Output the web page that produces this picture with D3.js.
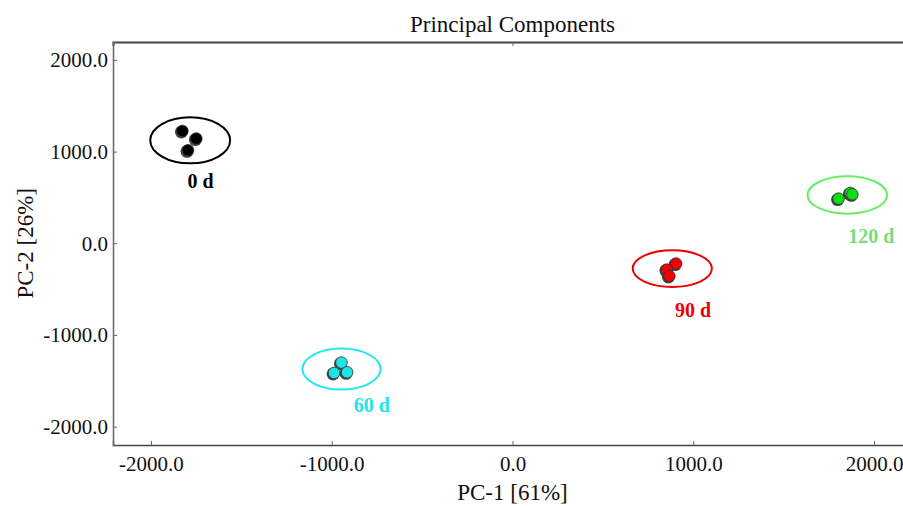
<!DOCTYPE html>
<html>
<head>
<meta charset="utf-8">
<script src="https://cdn.jsdelivr.net/npm/d3@7"></script>
<style>
body{margin:0;background:#fff;}
svg{font-family:"Liberation Serif","Times New Roman",serif;}
</style>
</head>
<body>
<svg id="chart" width="903" height="506"></svg>
<script>
// 坐标轴范围
var XDOMAIN=[-2210,2210];
var YDOMAIN=[-2200,2195];
var XTICKS=[-2000,-1000,0,1000,2000];
var YTICKS=[-2000,-1000,0,1000,2000];

// 分组
var groups=["0 d","60 d","90 d","120 d"];
var groupColor=["#000000","#1ee4e8","#f00000","#11dd11"];
var ringColor=["#000000","#22e8ee","#f00000","#66ee66"];
var labelColor=["#000000","#22e4ea","#ee0000","#77dd77"];

// 样本得分 (PC1, PC2)
var pc1=[-1826,-1749,-1795, -946,-987,-915, 905,854,868, 1804,1869,1880];
var pc2=[1225,1142,1014, -1301,-1414,-1407, -221,-287,-357, 487,549,534];
var sampleGroup=[0,0,0, 1,1,1, 2,2,2, 3,3,3];

// 置信椭圆 (中心, 半轴)
var ellCx=[-1783,-946,884,1852];
var ellCy=[1123,-1372,-276,527];
var ellRx=[221,216,219,220];
var ellRy=[251,224,200,204];

// 标签位置
var labX=[-1725,-778,999,1985];
var labY=[600,-1843,-807,0];

var svg=d3.select("#chart");
var LEFT=113,TOP=42,RIGHT=912,BOTTOM=445;

var x=d3.scaleLinear().domain(XDOMAIN).range([LEFT,RIGHT]);
var y=d3.scaleLinear().domain(YDOMAIN).range([BOTTOM,TOP]);

// 数值格式：普通连字符负号
function fmt(d){return d.toFixed(1);}

// 标题
svg.append("text")
	.text("Principal Components")
	.attr("x",x(0))
	.attr("y",32)
	.attr("text-anchor","middle")
	.style("font-size","23px")
	.style("fill","#111");

// 坐标轴
var xAxis=svg.append("g")
	.attr("transform","translate(0,"+BOTTOM+")")
	.call(d3.axisBottom(x).tickValues(XTICKS).tickSize(-4).tickPadding(11).tickFormat(fmt));
var xTop=svg.append("g")
	.attr("transform","translate(0,"+TOP+")")
	.call(d3.axisTop(x).tickValues([0]).tickSize(-4).tickFormat(""));
var yAxis=svg.append("g")
	.attr("transform","translate("+LEFT+",0)")
	.call(d3.axisLeft(y).tickValues(YTICKS).tickSize(-4).tickPadding(5).tickFormat(fmt));

[xAxis,yAxis,xTop].forEach(function(g){
	g.selectAll("text")
		.style("font-family","'Liberation Serif','Times New Roman',serif")
		.style("font-size","21px")
		.style("fill","#111");
	g.selectAll("line").style("stroke","#666");
	g.select(".domain").style("stroke","#666").style("stroke-width","1.5px");
});
xTop.select(".domain").style("stroke","#444").style("stroke-width","2px");
xAxis.select(".domain").style("stroke","#444");

// 轴标题
svg.append("text")
	.text("PC-1 [61%]")
	.attr("x",x(0))
	.attr("y",500)
	.attr("text-anchor","middle")
	.style("font-size","23px")
	.style("fill","#111");
svg.append("text")
	.text("PC-2 [26%]")
	.attr("transform","translate(33,"+y(0)+") rotate(-90)")
	.attr("text-anchor","middle")
	.style("font-size","23px")
	.style("fill","#111");

// 椭圆与组标签
for(var i=0;i<groups.length;i++){
	svg.append("ellipse")
		.attr("cx",x(ellCx[i]))
		.attr("cy",y(ellCy[i]))
		.attr("rx",x(ellRx[i])-x(0))
		.attr("ry",y(0)-y(ellRy[i]))
		.style("fill","none")
		.style("stroke",ringColor[i])
		.style("stroke-width","2px");
	svg.append("text")
		.text(groups[i])
		.attr("x",x(labX[i]))
		.attr("y",y(labY[i]))
		.attr("text-anchor","middle")
		.style("font-size","20px")
		.style("font-weight","bold")
		.style("fill",labelColor[i]);
}

// 样本点 (阴影+点)
for(var i=0;i<pc1.length;i++){
	svg.append("circle")
		.attr("cx",x(pc1[i])-1)
		.attr("cy",y(pc2[i])+1)
		.attr("r",6.5)
		.style("fill","#444");
}
for(var i=0;i<pc1.length;i++){
	svg.append("circle")
		.attr("cx",x(pc1[i]))
		.attr("cy",y(pc2[i]))
		.attr("r",5.8)
		.style("fill",groupColor[sampleGroup[i]])
		.style("stroke","#333")
		.style("stroke-width","0.8px");
}
</script>
</body>
</html>
